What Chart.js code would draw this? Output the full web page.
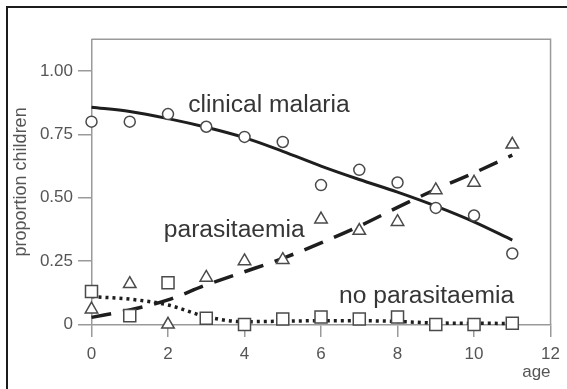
<!DOCTYPE html>
<html><head><meta charset="utf-8">
<script src="https://cdn.jsdelivr.net/npm/chart.js@4.4.1/dist/chart.umd.min.js"></script>
<style>html,body{margin:0;padding:0;background:#fff;overflow:hidden}canvas{display:block}</style>
</head><body>
<canvas id="c" width="567" height="389"></canvas>
<script>
// ---- data ----
const ages = [0, 1, 2, 3, 4, 5, 6, 7, 8, 9, 10, 11];
const clinicalObs   = [0.80, 0.80, 0.83, 0.78, 0.74, 0.72, 0.55, 0.61, 0.56, 0.46, 0.43, 0.28];
const parasitObs    = [0.06, 0.16, 0.00, 0.185, 0.25, 0.255, 0.415, 0.37, 0.405, 0.53, 0.56, 0.71];
const noParasitObs  = [0.13, 0.035, 0.165, 0.025, 0.00, 0.022, 0.03, 0.022, 0.03, 0.00, 0.00, 0.005];
const clinicalFit   = [0.857, 0.840, 0.812, 0.778, 0.737, 0.683, 0.625, 0.572, 0.522, 0.467, 0.405, 0.333];
const parasitFit    = [0.028, 0.057, 0.097, 0.156, 0.208, 0.261, 0.322, 0.388, 0.462, 0.533, 0.598, 0.668];
const noParasitFit  = [0.11, 0.10, 0.077, 0.031, 0.011, 0.013, 0.015, 0.015, 0.012, 0.006, 0.005, 0.004];
const xTicks = [0, 2, 4, 6, 8, 10, 12];
const yTicks = [0, 0.25, 0.5, 0.75, 1.0];
const seriesNames = ['clinical malaria', 'parasitaemia', 'no parasitaemia'];
const xTitle = 'age';
const yTitle = 'proportion children';

const pts = ys => ages.map((a, i) => ({ x: a, y: ys[i] }));
const FONT = '"Liberation Sans", Arial, sans-serif';
const AXIS = '#9a9a9a';
const MARK = '#4a4a4a';

// label anchors in data units (left edge, baseline)
const labelAnchors = [[2.53, 0.839], [1.89, 0.346], [6.47, 0.086]];

const decor = {
  id: 'decor',
  beforeDraw(chart) {
    const ctx = chart.ctx;
    ctx.save();
    ctx.fillStyle = '#fff';
    ctx.fillRect(0, 0, chart.width, chart.height);
    ctx.fillStyle = '#1c1c1c';
    ctx.fillRect(6, 6, chart.width - 6, 2);
    ctx.fillRect(6, 6, 2, chart.height - 6);
    ctx.restore();
  },
  beforeDatasetsDraw(chart) {
    const ctx = chart.ctx, a = chart.chartArea;
    ctx.save();
    ctx.strokeStyle = AXIS;
    ctx.lineWidth = 1.5;
    ctx.beginPath();
    ctx.moveTo(a.left, a.top);
    ctx.lineTo(a.right, a.top);
    ctx.lineTo(a.right, a.bottom);
    ctx.stroke();
    ctx.restore();
  },
  afterDatasetsDraw(chart) {
    const ctx = chart.ctx, sx = chart.scales.x, sy = chart.scales.y;
    ctx.save();
    ctx.fillStyle = '#363636';
    ctx.font = '23px ' + FONT;
    ctx.textAlign = 'left';
    ctx.textBaseline = 'alphabetic';
    seriesNames.forEach((t, i) => {
      const px = sx.getPixelForValue(labelAnchors[i][0]);
      const py = sy.getPixelForValue(labelAnchors[i][1]);
      ctx.save();
      ctx.translate(px, py);
      ctx.scale(1.07, 1);
      ctx.fillText(t, 0, 0);
      ctx.restore();
    });
    ctx.restore();
  }
};

const markerBase = { showLine: false, clip: false, pointBorderWidth: 1.5, pointBorderColor: MARK, pointBackgroundColor: '#fff', pointHoverRadius: 0 };
const lineBase = { showLine: true, clip: false, pointRadius: 0, fill: false, cubicInterpolationMode: 'monotone', borderColor: '#1e1e1e', borderCapStyle: 'butt' };

new Chart(document.getElementById('c'), {
  type: 'scatter',
  data: {
    datasets: [
      Object.assign({ label: seriesNames[0], data: pts(clinicalObs), pointStyle: 'circle', pointRadius: 5.5 }, markerBase),
      Object.assign({ label: seriesNames[1], data: pts(parasitObs), pointStyle: 'triangle', pointRadius: 7.2 }, markerBase),
      Object.assign({ label: seriesNames[2], data: pts(noParasitObs), pointStyle: 'rect', pointRadius: 8.5 }, markerBase),
      Object.assign({ label: seriesNames[0] + ' fit', data: pts(clinicalFit), borderWidth: 3 }, lineBase),
      Object.assign({ label: seriesNames[1] + ' fit', data: pts(parasitFit), borderWidth: 3.5, borderDash: [20, 12] }, lineBase),
      Object.assign({ label: seriesNames[2] + ' fit', data: pts(noParasitFit), borderWidth: 3.5, borderDash: [3, 4] }, lineBase)
    ]
  },
  options: {
    responsive: false,
    animation: false,
    devicePixelRatio: 1,
    layout: { padding: { top: 39.3, right: 8.5, left: 0, bottom: 0 }, autoPadding: false },
    plugins: { legend: { display: false }, tooltip: { enabled: false } },
    scales: {
      x: {
        type: 'linear', min: 0, max: 12,
        afterBuildTicks: s => { s.ticks = xTicks.map(v => ({ value: v })); },
        afterFit: s => { s.height = 64.5; },
        ticks: { color: '#555', font: { family: FONT, size: 17 }, padding: 7, maxRotation: 0 },
        grid: { drawOnChartArea: false, drawTicks: true, tickLength: 12.5, color: AXIS, lineWidth: 1.5 },
        border: { color: AXIS, width: 1.5 },
        title: { display: true, text: xTitle, align: 'end', color: '#555', font: { family: FONT, size: 17 }, padding: { top: 0, bottom: 6 } }
      },
      y: {
        type: 'linear', min: 0, max: 1.125,
        afterBuildTicks: s => { s.ticks = yTicks.map(v => ({ value: v })); },
        afterFit: s => { s.width = 91.5; },
        ticks: { color: '#555', font: { family: FONT, size: 17 }, padding: 5, callback: v => v === 0 ? '0' : v.toFixed(2) },
        grid: { drawOnChartArea: false, drawTicks: true, tickLength: 13.5, color: AXIS, lineWidth: 1.5 },
        border: { color: AXIS, width: 1.5 },
        title: { display: true, text: yTitle, color: '#555', font: { family: FONT, size: 18 }, padding: { top: 10, bottom: 0 } }
      }
    }
  },
  plugins: [decor]
});
</script>
</body></html>
